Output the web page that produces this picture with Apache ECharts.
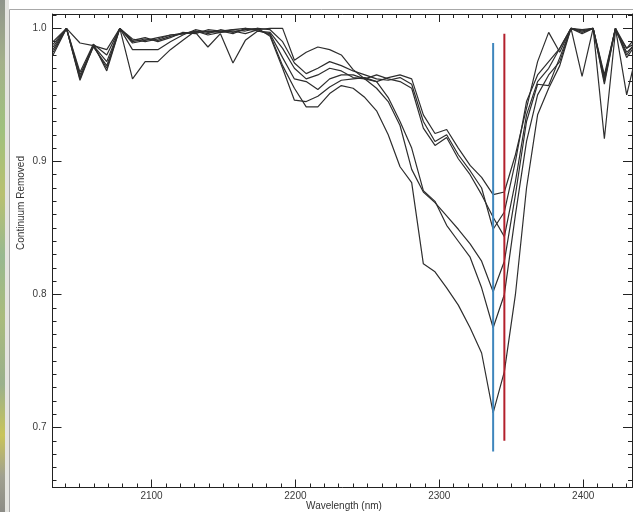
<!DOCTYPE html>
<html>
<head>
<meta charset="utf-8">
<style>
  html, body { margin: 0; padding: 0; background: #ffffff; }
  #chart { width: 633px; height: 512px; }
</style>
<script src="https://cdn.jsdelivr.net/npm/echarts@6/dist/echarts.min.js"></script>
</head>
<body>
<div id="chart"></div>
<script>
// Band centres (nm) of the resampled spectra
const wavelengths = [
  2031.6, 2040.9, 2050.3, 2059.6, 2068.9, 2078.0, 2086.8, 2095.6, 2104.4, 2113.1,
  2121.8, 2130.5, 2139.2, 2147.9, 2156.6, 2165.2, 2173.8, 2182.4, 2191.1, 2199.3,
  2207.5, 2215.6, 2223.8, 2231.9, 2240.1, 2248.3, 2256.4, 2264.5, 2272.7, 2280.8,
  2288.9, 2297.0, 2305.1, 2313.2, 2321.4, 2329.4, 2337.4, 2345.2, 2352.9, 2360.6,
  2368.3, 2376.0, 2383.7, 2391.5, 2399.2, 2406.9, 2414.7, 2422.4, 2430.2, 2437.9
];

// Continuum-removed reflectance, one array per spectrum
const spectrum1 = [
  0.986, 1.000, 0.962, 0.988, 0.968, 1.000, 0.962, 0.975, 0.975, 0.984,
  0.991, 0.998, 0.995, 0.997, 0.998, 0.996, 0.999, 0.995, 0.972, 0.955,
  0.941, 0.941, 0.951, 0.957, 0.955, 0.948, 0.938, 0.920, 0.896, 0.884,
  0.823, 0.817, 0.805, 0.792, 0.775, 0.756, 0.711, 0.742, 0.800, 0.880,
  0.935, 0.955, 0.972, 1.000, 0.996, 1.000, 0.917, 0.998, 0.985, 0.990
];
const spectrum2 = [
  0.982, 1.000, 0.965, 0.987, 0.970, 1.000, 0.990, 0.992, 0.991, 0.994,
  0.996, 0.998, 0.996, 0.999, 0.997, 0.999, 1.000, 0.994, 0.970, 0.946,
  0.945, 0.949, 0.956, 0.961, 0.962, 0.963, 0.960, 0.948, 0.930, 0.910,
  0.878, 0.870, 0.852, 0.840, 0.828, 0.805, 0.775, 0.800, 0.860, 0.915,
  0.950, 0.965, 0.975, 1.000, 0.964, 1.000, 0.962, 1.000, 0.982, 0.990
];
const spectrum3 = [
  0.990, 1.000, 0.961, 0.987, 0.975, 1.000, 0.984, 0.984, 0.984, 0.990,
  0.995, 0.999, 0.997, 0.998, 0.996, 1.000, 0.998, 0.996, 0.978, 0.962,
  0.960, 0.954, 0.962, 0.965, 0.965, 0.962, 0.955, 0.945, 0.927, 0.894,
  0.877, 0.869, 0.859, 0.849, 0.838, 0.825, 0.802, 0.825, 0.875, 0.930,
  0.958, 0.957, 0.978, 1.000, 0.997, 1.000, 0.965, 1.000, 0.950, 0.985
];
const spectrum4 = [
  0.984, 1.000, 0.967, 0.988, 0.980, 1.000, 0.992, 0.990, 0.992, 0.995,
  0.996, 0.997, 0.998, 0.997, 0.999, 0.998, 1.000, 0.999, 0.990, 0.974,
  0.966, 0.970, 0.975, 0.972, 0.968, 0.965, 0.962, 0.961, 0.963, 0.958,
  0.930, 0.915, 0.920, 0.905, 0.893, 0.880, 0.849, 0.862, 0.900, 0.945,
  0.965, 0.975, 0.985, 1.000, 0.998, 1.000, 0.960, 1.000, 0.980, 0.992
];
const spectrum5 = [
  0.988, 1.000, 0.989, 0.987, 0.984, 1.000, 0.991, 0.993, 0.990, 0.993,
  0.997, 0.996, 0.999, 0.998, 0.999, 1.000, 0.999, 1.000, 1.000, 0.976,
  0.982, 0.986, 0.984, 0.980, 0.969, 0.962, 0.960, 0.963, 0.965, 0.962,
  0.935, 0.921, 0.924, 0.910, 0.897, 0.888, 0.875, 0.877, 0.905, 0.940,
  0.975, 0.997, 0.982, 1.000, 0.998, 1.000, 0.963, 1.000, 0.985, 0.995
];
const spectrum6 = [
  0.980, 1.000, 0.963, 0.986, 0.972, 1.000, 0.989, 0.991, 0.993, 0.995,
  0.996, 0.997, 0.986, 0.996, 0.974, 0.991, 0.998, 0.997, 0.985, 0.970,
  0.962, 0.965, 0.970, 0.968, 0.963, 0.962, 0.965, 0.962, 0.960, 0.955,
  0.925, 0.912, 0.918, 0.902, 0.890, 0.875, 0.858, 0.8435, 0.885, 0.935,
  0.960, 0.970, 0.985, 1.000, 0.999, 1.000, 0.958, 1.000, 0.978, 0.990
];
const spectra = [spectrum1, spectrum2, spectrum3, spectrum4, spectrum5, spectrum6];

// Absorption-feature markers: [wavelength, lower value, upper value]
const markerBlue = [2337.4, 0.682, 0.989];
const markerRed = [2345.2, 0.690, 0.996];

// Axis ranges and tick values
const xRange = [2031.2, 2433.9];
const yRange = [0.6549, 1.0108];
const xMajorTicks = [2100, 2200, 2300, 2400];
const xMinorTicks = [2040, 2050, 2060, 2070, 2080, 2090, 2110, 2120, 2130, 2140, 2150, 2160,
  2170, 2180, 2190, 2210, 2220, 2230, 2240, 2250, 2260, 2270, 2280, 2290, 2310, 2320, 2330,
  2340, 2350, 2360, 2370, 2380, 2390, 2410, 2420, 2430];
const yMajorTicks = [0.7, 0.8, 0.9, 1.0];
const yMinorTicks = [0.66, 0.67, 0.68, 0.69, 0.71, 0.72, 0.73, 0.74, 0.75, 0.76, 0.77, 0.78,
  0.79, 0.81, 0.82, 0.83, 0.84, 0.85, 0.86, 0.87, 0.88, 0.89, 0.91, 0.92, 0.93, 0.94, 0.95,
  0.96, 0.97, 0.98, 0.99, 1.01];

const xTitle = 'Wavelength (nm)';
const yTitle = 'Continuum Removed';

const chart = echarts.init(document.getElementById('chart'), null, { renderer: 'canvas' });

const axisColor = '#222';
const labelFont = { fontFamily: 'Liberation Sans, Arial, sans-serif', fontSize: 10, color: '#3a3a3a' };

function xAxisDef(position, ticks, len, showLabel, showLine) {
  return {
    type: 'value', position: position, min: xRange[0], max: xRange[1],
    axisLine: { show: showLine, onZero: false, lineStyle: { color: axisColor, width: 1 } },
    axisTick: { show: true, inside: true, length: len, customValues: ticks,
      lineStyle: { color: axisColor, width: 1 } },
    axisLabel: showLabel ? Object.assign({ show: true, customValues: ticks, margin: 4,
        formatter: function (v) { return String(Math.round(v)); } }, labelFont)
                         : { show: false },
    splitLine: { show: false }
  };
}
function yAxisDef(position, ticks, len, showLabel, showLine) {
  return {
    type: 'value', position: position, min: yRange[0], max: yRange[1],
    axisLine: { show: showLine, onZero: false, lineStyle: { color: axisColor, width: 1 } },
    axisTick: { show: true, inside: true, length: len, customValues: ticks,
      lineStyle: { color: axisColor, width: 1 } },
    axisLabel: showLabel ? Object.assign({ show: true, customValues: ticks, margin: 6,
        formatter: function (v) { return v.toFixed(1); } }, labelFont)
                         : { show: false },
    splitLine: { show: false }
  };
}

const series = spectra.map(function (vals, k) {
  return {
    name: 'spectrum ' + (k + 1),
    type: 'line',
    xAxisIndex: 0, yAxisIndex: 0,
    data: wavelengths.map(function (w, i) { return [w, vals[i]]; }),
    showSymbol: false, symbol: 'none',
    lineStyle: { color: '#2e2e2e', width: 1.2 },
    clip: true, z: 3
  };
});
// marker lines are drawn over the spectra
series.push({
  type: 'line', xAxisIndex: 0, yAxisIndex: 0, symbol: 'none', z: 4,
  data: [[markerBlue[0], markerBlue[1]], [markerBlue[0], markerBlue[2]]],
  lineStyle: { color: '#3f86bd', width: 2 }
});
series.push({
  type: 'line', xAxisIndex: 0, yAxisIndex: 0, symbol: 'none', z: 4,
  data: [[markerRed[0], markerRed[1]], [markerRed[0], markerRed[2]]],
  lineStyle: { color: '#b3202c', width: 2 }
});

chart.setOption({
  animation: false,
  backgroundColor: '#ffffff',
  grid: { left: 52.5, right: 1, top: 14, bottom: 24.5, containLabel: false },
  xAxis: [
    xAxisDef('bottom', xMajorTicks, 8, true, true),
    xAxisDef('bottom', xMinorTicks, 4, false, false),
    xAxisDef('top', xMajorTicks, 8, false, true),
    xAxisDef('top', xMinorTicks, 4, false, false)
  ],
  yAxis: [
    yAxisDef('left', yMajorTicks, 9, true, true),
    yAxisDef('left', yMinorTicks, 4, false, false),
    yAxisDef('right', yMajorTicks, 9, false, true),
    yAxisDef('right', yMinorTicks, 4, false, false)
  ],
  graphic: [
    // scanned margin strip on the far left
    { type: 'rect', shape: { x: 0, y: 0, width: 5, height: 512 }, silent: true,
      style: { fill: new echarts.graphic.LinearGradient(0, 0, 0, 1, [
        { offset: 0.0, color: '#8f948a' }, { offset: 0.12, color: '#a3b08a' },
        { offset: 0.25, color: '#9fc07e' }, { offset: 0.38, color: '#b8c070' },
        { offset: 0.5, color: '#98b890' }, { offset: 0.62, color: '#a9bb7c' },
        { offset: 0.75, color: '#9ab08c' }, { offset: 0.85, color: '#c8c45a' },
        { offset: 0.93, color: '#a0a090' }, { offset: 1.0, color: '#8c8c86' }]) } },
    { type: 'rect', shape: { x: 5, y: 0, width: 4, height: 512 }, silent: true,
      style: { fill: '#e4e4e0' } },
    // window frame
    { type: 'polyline', silent: true,
      shape: { points: [[9.5, 512], [9.5, 9.5], [633, 9.5]] },
      style: { stroke: '#a8a8a8', lineWidth: 1, fill: null } },
    // axis titles
    { type: 'text', silent: true, x: 344, y: 506,
      style: { text: xTitle, fontFamily: 'Liberation Sans, Arial, sans-serif', fontSize: 10,
        fill: '#333', align: 'center', verticalAlign: 'middle' } },
    { type: 'text', silent: true, x: 21.5, y: 203, rotation: Math.PI / 2,
      style: { text: yTitle, fontFamily: 'Liberation Sans, Arial, sans-serif', fontSize: 10,
        fill: '#333', align: 'center', verticalAlign: 'middle' } }
  ],
  series: series
});
</script>
</body>
</html>
